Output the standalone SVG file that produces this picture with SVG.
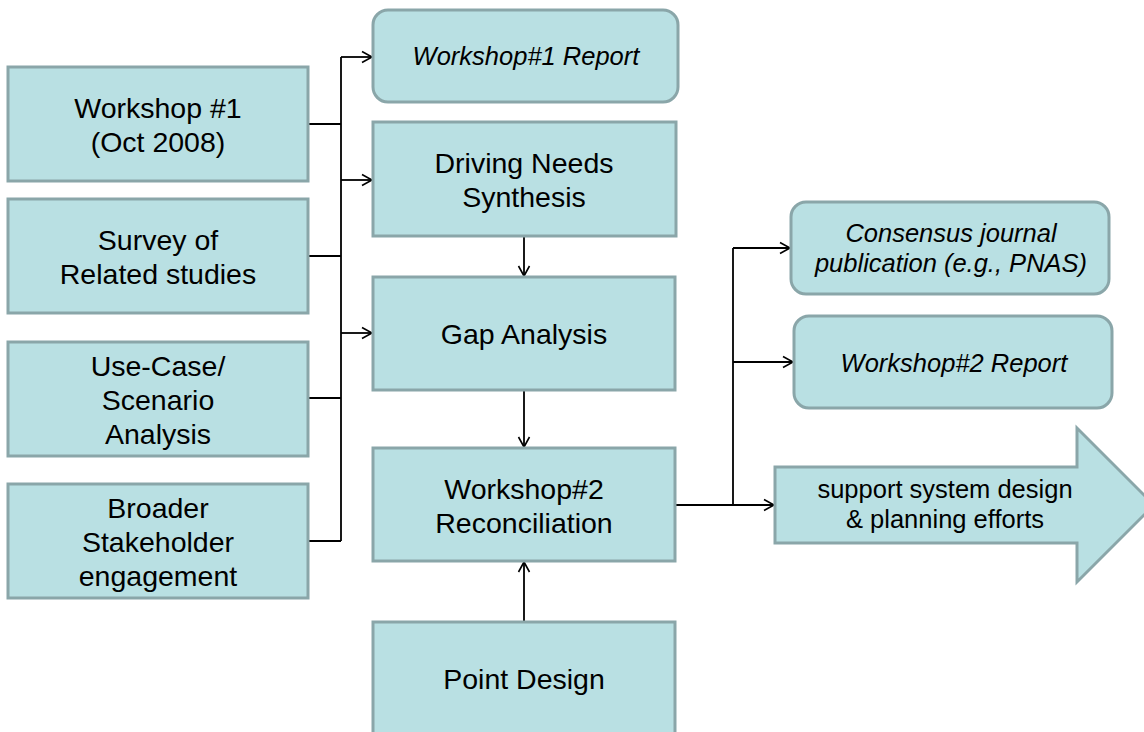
<svg xmlns="http://www.w3.org/2000/svg" width="1144" height="732" viewBox="0 0 1144 732">
<style>
.box{fill:#b9e0e3;stroke:#8aa6a9;stroke-width:3}
.t{font-family:"Liberation Sans",Arial,sans-serif;font-size:28.5px;fill:#000;text-anchor:middle}
.i{font-family:"Liberation Sans",Arial,sans-serif;font-size:25.5px;font-style:italic;fill:#000;text-anchor:middle}
.s{font-family:"Liberation Sans",Arial,sans-serif;font-size:25.5px;fill:#000;text-anchor:middle}
.c{fill:none;stroke:#000;stroke-width:1.8}
</style>
<defs>
<marker id="ah" markerUnits="userSpaceOnUse" markerWidth="14" markerHeight="14" viewBox="0 0 14 14" refX="12" refY="7" orient="auto">
<path d="M2,1.5 L12,7 L2,12.5" fill="none" stroke="#000" stroke-width="1.6"/>
</marker>
</defs>
<g id="connectors">
<path class="c" d="M308,124 H341 M308,256 H341 M308,398 H341 M308,541 H341 M341,57 V541"/>
<path class="c" d="M341,57 H372" marker-end="url(#ah)"/>
<path class="c" d="M341,180 H372" marker-end="url(#ah)"/>
<path class="c" d="M341,333 H372" marker-end="url(#ah)"/>
<path class="c" d="M524,236 V276" marker-end="url(#ah)"/>
<path class="c" d="M524,390 V447" marker-end="url(#ah)"/>
<path class="c" d="M524,622 V562" marker-end="url(#ah)"/>
<path class="c" d="M676,505 H733 V248"/>
<path class="c" d="M733,248 H790" marker-end="url(#ah)"/>
<path class="c" d="M733,362 H793" marker-end="url(#ah)"/>
<path class="c" d="M733,505 H774" marker-end="url(#ah)"/>
</g>
<g id="workshop1">
<rect class="box" x="8" y="67" width="300" height="114"/>
<text class="t" x="158" y="118">Workshop #1</text>
<text class="t" x="158" y="152">(Oct 2008)</text>
</g>
<g id="survey">
<rect class="box" x="8" y="199" width="300" height="114"/>
<text class="t" x="158" y="250">Survey of</text>
<text class="t" x="158" y="284">Related studies</text>
</g>
<g id="usecase">
<rect class="box" x="8" y="342" width="300" height="114"/>
<text class="t" x="158" y="376">Use-Case/</text>
<text class="t" x="158" y="410">Scenario</text>
<text class="t" x="158" y="444">Analysis</text>
</g>
<g id="broader">
<rect class="box" x="8" y="484" width="300" height="114"/>
<text class="t" x="158" y="518">Broader</text>
<text class="t" x="158" y="552">Stakeholder</text>
<text class="t" x="158" y="586">engagement</text>
</g>
<g id="ws1report">
<rect class="box" x="373" y="10" width="305" height="92" rx="15"/>
<text class="i" x="526" y="65">Workshop#1 Report</text>
</g>
<g id="driving">
<rect class="box" x="373" y="122" width="303" height="114"/>
<text class="t" x="524" y="173">Driving Needs</text>
<text class="t" x="524" y="207">Synthesis</text>
</g>
<g id="gap">
<rect class="box" x="373" y="277" width="302" height="113"/>
<text class="t" x="524" y="344">Gap Analysis</text>
</g>
<g id="ws2">
<rect class="box" x="373" y="448" width="302" height="113"/>
<text class="t" x="524" y="499">Workshop#2</text>
<text class="t" x="524" y="533">Reconciliation</text>
</g>
<g id="point">
<rect class="box" x="373" y="622" width="302" height="114"/>
<text class="t" x="524" y="689">Point Design</text>
</g>
<g id="consensus">
<rect class="box" x="791" y="202" width="318" height="92" rx="15"/>
<text class="i" x="951" y="242">Consensus journal</text>
<text class="i" x="951" y="272">publication (e.g., PNAS)</text>
</g>
<g id="ws2report">
<rect class="box" x="794" y="316" width="318" height="92" rx="15"/>
<text class="i" x="954" y="372">Workshop#2 Report</text>
</g>
<g id="support">
<path class="box" d="M775,467 H1077 V428 L1154,505 L1077,582 V543 H775 Z"/>
<text class="s" x="945" y="498">support system design</text>
<text class="s" x="945" y="528">&amp; planning efforts</text>
</g>
</svg>
